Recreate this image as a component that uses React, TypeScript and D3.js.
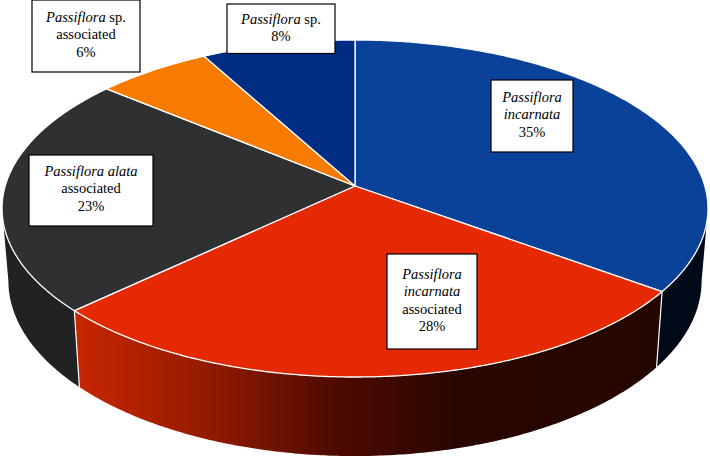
import React from 'react';
import * as d3 from 'd3';

const width = 710;
const height = 458;

// slices, clockwise from 12 o'clock
const species = [
  'Passiflora incarnata',
  'Passiflora incarnata associated',
  'Passiflora alata associated',
  'Passiflora sp. associated',
  'Passiflora sp.',
];
const shares = [35, 28, 23, 6, 8];
const topColors = ['#0a4199', '#e52903', '#2f3032', '#f77b00', '#002d84'];
const sideColors = ['#000a18', 'url(#redSide)', '#202224', '#000', '#000'];

// label text, one row per line: [text, italic]
const labelRows: [string, boolean][][][] = [
  [[['Passiflora', true]], [['incarnata', true]], [['35%', false]]],
  [[['Passiflora', true]], [['incarnata', true]], [['associated', false]], [['28%', false]]],
  [[['Passiflora alata', true]], [['associated', false]], [['23%', false]]],
  [[['Passiflora', true], [' sp.', false]], [['associated', false]], [['6%', false]]],
  [[['Passiflora', true], [' sp.', false]], [['8%', false]]],
];
// label boxes: x0, y0, x1, y1, first baseline
const labelBoxes = [
  [491, 80, 573, 152, 102],
  [387, 254, 477, 349, 279],
  [29, 155, 153, 226, 176],
  [32, 0, 140, 72, 22],
  [227, 4, 335, 53.5, 24],
];

// perspective projection of the disc, the centre sits above the ellipse middle
const cx = 355;
const cy = 186;
const persp = 0.1336;
const scaleA = 349.8;
const scaleB = 165.5;
const depthX = 0.982;
const depthY = 1.04;
const depthY0 = 257.4;

const top = (t: number): [number, number] => {
  const dx = Math.sin(t);
  const dy = -Math.cos(t);
  const w = 1 - persp * dy;
  return [cx + (scaleA * dx) / w, cy + (scaleB * dy) / w];
};
const bottom = (t: number): [number, number] => {
  const [x, y] = top(t);
  return [cx + depthX * (x - cx), depthY0 + depthY * (y - cy)];
};

// the rim turns away from the viewer past these angles
const limit = Math.acos(-persp);
const rimStart = limit;
const rimEnd = 2 * Math.PI - limit;

const line = d3.line();
const arcPoints = (a: number, b: number, fn: (t: number) => [number, number]) => {
  const n = Math.max(2, Math.ceil(Math.abs(b - a) * 120));
  return d3.range(n + 1).map((i) => fn(a + ((b - a) * i) / n));
};

const pie = d3.pie<number>().sort(null).value((d) => d);
const arcs = pie(shares);

export default function App() {
  return (
    <svg
      width={width}
      height={height}
      viewBox={`0 0 ${width} ${height}`}
      style={{ position: 'absolute', left: 0, top: 0, background: '#fff' }}
      fontFamily="'Liberation Serif', serif"
    >
      <defs>
        <linearGradient id="redSide" gradientUnits="userSpaceOnUse" x1={80} x2={660} y1={0} y2={0}>
          <stop offset="0" stopColor="#c62600" />
          <stop offset="0.2" stopColor="#981c00" />
          <stop offset="0.45" stopColor="#4c0a00" />
          <stop offset="0.65" stopColor="#2a0600" />
          <stop offset="1" stopColor="#260600" />
        </linearGradient>
      </defs>

      {/* rim */}
      {arcs.map((d, i) => {
        const a = Math.max(d.startAngle, rimStart);
        const b = Math.min(d.endAngle, rimEnd);
        if (a >= b) return null;
        const pts = [...arcPoints(a, b, top), ...arcPoints(b, a, bottom)];
        return <path key={i} d={line(pts) + 'Z'} fill={sideColors[i]} />;
      })}
      {/* white seams on the rim */}
      {arcs
        .filter((d) => d.endAngle > rimStart && d.endAngle < rimEnd)
        .map((d, i) => (
          <path
            key={i}
            d={line([top(d.endAngle), bottom(d.endAngle)]) as string}
            stroke="#fff"
            strokeWidth={1.2}
            fill="none"
          />
        ))}

      {/* top of the disc */}
      {arcs.map((d, i) => (
        <path
          key={i}
          d={line([[cx, cy], ...arcPoints(d.startAngle, d.endAngle, top)]) + 'Z'}
          fill={topColors[i]}
          stroke="#fff"
          strokeWidth={1.3}
          strokeLinejoin="round"
        />
      ))}

      {/* labels */}
      {labelRows.map((rows, i) => {
        const [x0, y0, x1, y1, base] = labelBoxes[i];
        return (
          <g key={species[i]}>
            <rect
              x={x0}
              y={y0}
              width={x1 - x0}
              height={y1 - y0}
              fill="#fff"
              stroke="#000"
              strokeWidth={1.2}
            />
            {rows.map((row, j) => (
              <text key={j} x={(x0 + x1) / 2} y={base + j * 17.4} textAnchor="middle" fontSize={14.5} fill="#000">
                {row.map(([s, italic], k) => (
                  <tspan key={k} fontStyle={italic ? 'italic' : 'normal'}>
                    {s}
                  </tspan>
                ))}
              </text>
            ))}
          </g>
        );
      })}
    </svg>
  );
}
